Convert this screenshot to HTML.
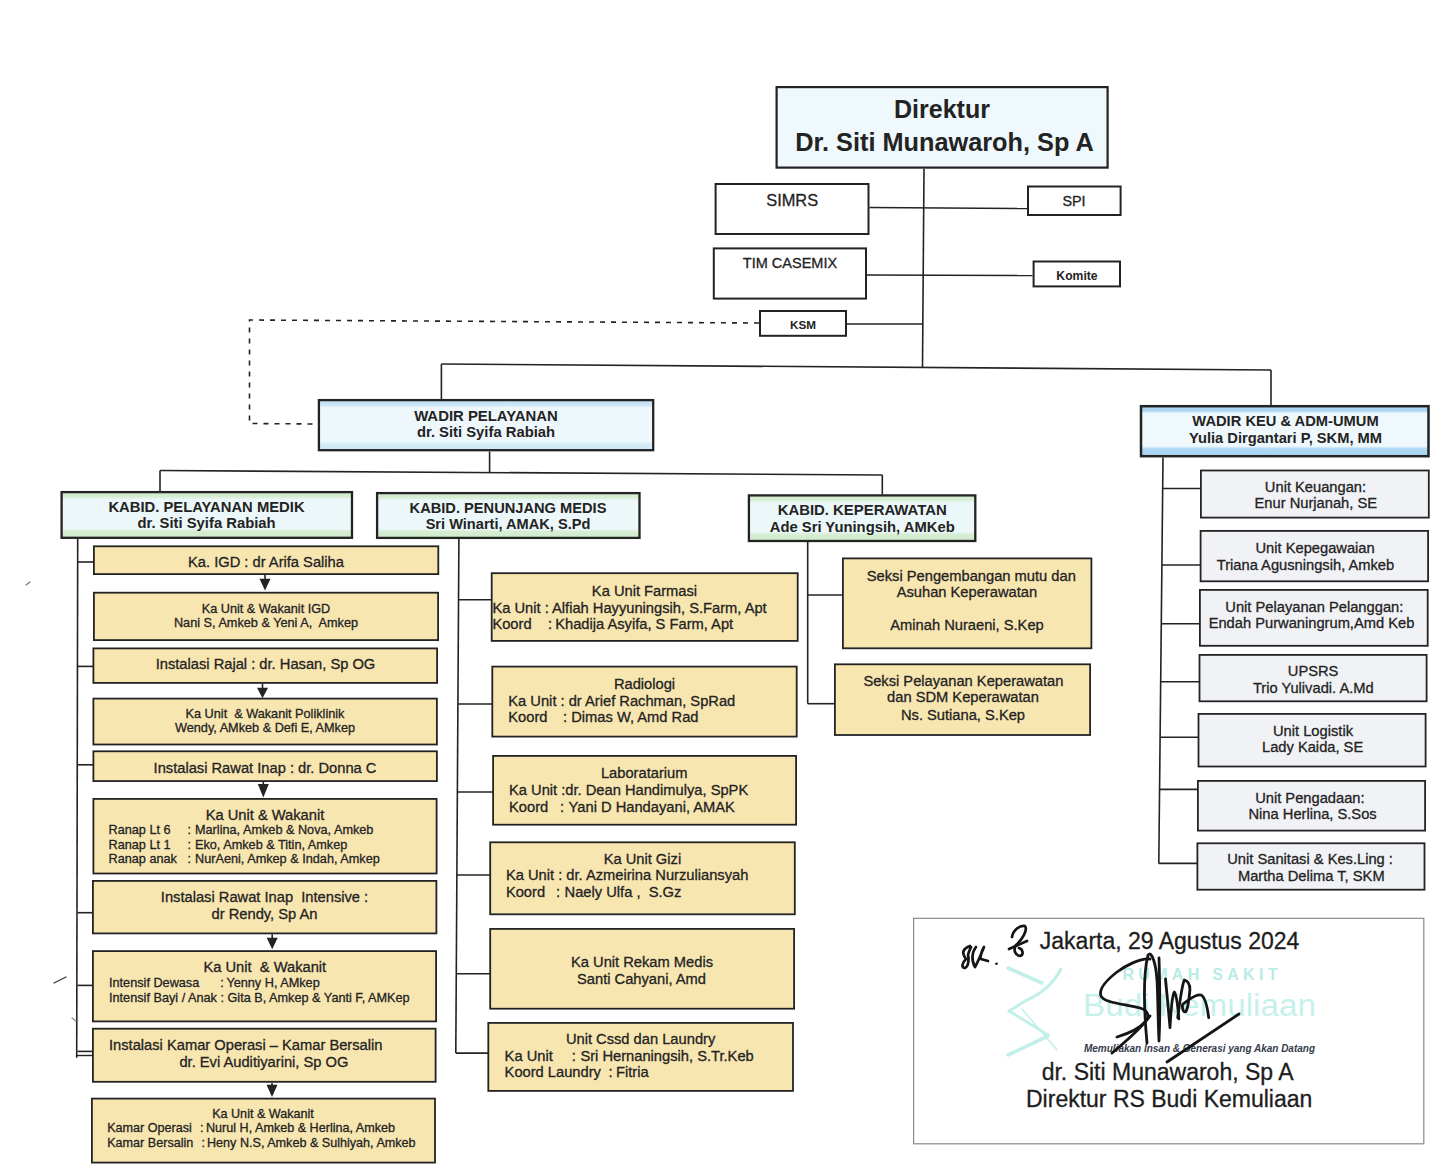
<!DOCTYPE html>
<html><head><meta charset="utf-8"><title>Struktur Organisasi</title>
<style>
html,body{margin:0;padding:0;background:#fff;}
svg{display:block;}
text{font-family:"Liberation Sans",sans-serif;}
.t{stroke:#232323;stroke-width:0.3px;}
</style></head>
<body>
<svg width="1442" height="1174" viewBox="0 0 1442 1174">
<defs>
<linearGradient id="gwp" x1="0" y1="0" x2="0" y2="1">
<stop offset="0" stop-color="#c2dff4"/><stop offset="0.1" stop-color="#cbe5f6"/><stop offset="0.15" stop-color="#eef8fc"/><stop offset="0.82" stop-color="#eef8fc"/><stop offset="0.88" stop-color="#d4ecf7"/><stop offset="1" stop-color="#cfe9f6"/>
</linearGradient>
<linearGradient id="gwk" x1="0" y1="0" x2="0" y2="1">
<stop offset="0" stop-color="#a8d3f2"/><stop offset="0.1" stop-color="#b0d8f3"/><stop offset="0.14" stop-color="#eff8fd"/><stop offset="0.8" stop-color="#eff8fd"/><stop offset="0.85" stop-color="#b0d8f3"/><stop offset="1" stop-color="#a8d3f2"/>
</linearGradient>
<linearGradient id="gkb" x1="0" y1="0" x2="0" y2="1">
<stop offset="0" stop-color="#d0eacb"/><stop offset="0.1" stop-color="#d6edd2"/><stop offset="0.16" stop-color="#ebf7f8"/><stop offset="0.8" stop-color="#ebf7f8"/><stop offset="0.86" stop-color="#d6edd2"/><stop offset="1" stop-color="#d0eacb"/>
</linearGradient>
</defs>
<rect x="0" y="0" width="1442" height="1174" fill="#ffffff"/>
<rect x="776.6" y="87.1" width="331.0" height="80.5" fill="#eff8fc" stroke="#232323" stroke-width="2.2" />
<text x="942.0" y="117.5" font-size="25" font-weight="bold" text-anchor="middle" fill="#232323" >Direktur</text>
<text x="944.5" y="151.0" font-size="25.3" font-weight="bold" text-anchor="middle" fill="#232323" >Dr. Siti Munawaroh, Sp A</text>
<line x1="924.0" y1="168.7" x2="922.5" y2="367.0" stroke="#232323" stroke-width="1.6" />
<rect x="715.6" y="184.0" width="152.9" height="50.0" fill="#fff" stroke="#232323" stroke-width="2.0" />
<text x="792.2" y="205.6" font-size="16.4" class="t" text-anchor="middle" fill="#232323" >SIMRS</text>
<rect x="1028.0" y="186.5" width="92.6" height="28.5" fill="#fff" stroke="#232323" stroke-width="2.0" />
<text x="1074.0" y="206.3" font-size="14.4" class="t" text-anchor="middle" fill="#232323" >SPI</text>
<line x1="869.5" y1="207.5" x2="1027.0" y2="208.5" stroke="#232323" stroke-width="1.6" />
<rect x="713.8" y="248.4" width="152.2" height="50.2" fill="#fff" stroke="#232323" stroke-width="2.0" />
<text x="790.0" y="268.0" font-size="14.5" class="t" text-anchor="middle" fill="#232323" >TIM CASEMIX</text>
<rect x="1033.6" y="261.5" width="86.4" height="24.9" fill="#fff" stroke="#232323" stroke-width="2.0" />
<text x="1077.0" y="279.5" font-size="12.2" font-weight="bold" text-anchor="middle" fill="#232323" >Komite</text>
<line x1="867.0" y1="275.0" x2="1032.6" y2="275.5" stroke="#232323" stroke-width="1.6" />
<rect x="760.0" y="311.0" width="86.0" height="24.8" fill="#fff" stroke="#232323" stroke-width="2.0" />
<text x="803.0" y="328.7" font-size="11.7" font-weight="bold" text-anchor="middle" fill="#232323" >KSM</text>
<line x1="847.0" y1="324.0" x2="923.0" y2="324.0" stroke="#232323" stroke-width="1.6" />
<polyline points="759,323 249.5,320 249.5,423.5 313,424" fill="none" stroke="#232323" stroke-width="1.6" stroke-dasharray="5,6"/>
<line x1="441.4" y1="364.0" x2="1271.0" y2="370.0" stroke="#232323" stroke-width="1.6" />
<line x1="441.4" y1="364.0" x2="441.4" y2="399.0" stroke="#232323" stroke-width="1.6" />
<line x1="1271.0" y1="370.0" x2="1271.0" y2="405.0" stroke="#232323" stroke-width="1.6" />
<rect x="318.9" y="400.1" width="334.3" height="50.1" fill="url(#gwp)" stroke="#232323" stroke-width="2.3" />
<text x="486.0" y="420.5" font-size="14.9" font-weight="bold" text-anchor="middle" fill="#232323" >WADIR PELAYANAN</text>
<text x="486.0" y="436.7" font-size="14.8" font-weight="bold" text-anchor="middle" fill="#232323" >dr. Siti Syifa Rabiah</text>
<rect x="1141.0" y="406.2" width="287.5" height="50.0" fill="url(#gwk)" stroke="#232323" stroke-width="2.5" />
<text x="1285.5" y="426.2" font-size="14.7" font-weight="bold" text-anchor="middle" fill="#232323" >WADIR KEU &amp; ADM-UMUM</text>
<text x="1285.5" y="443.0" font-size="14.7" font-weight="bold" text-anchor="middle" fill="#232323" >Yulia Dirgantari P, SKM, MM</text>
<line x1="489.6" y1="451.4" x2="489.6" y2="472.5" stroke="#232323" stroke-width="1.6" />
<line x1="160.0" y1="470.5" x2="882.3" y2="475.0" stroke="#232323" stroke-width="1.6" />
<line x1="160.0" y1="470.5" x2="160.0" y2="491.0" stroke="#232323" stroke-width="1.6" />
<line x1="882.3" y1="475.0" x2="882.3" y2="494.3" stroke="#232323" stroke-width="1.6" />
<rect x="61.6" y="492.1" width="290.4" height="45.7" fill="url(#gkb)" stroke="#232323" stroke-width="2.3" />
<text x="206.5" y="512.0" font-size="14.8" font-weight="bold" text-anchor="middle" fill="#232323" >KABID. PELAYANAN MEDIK</text>
<text x="206.5" y="528.0" font-size="14.8" font-weight="bold" text-anchor="middle" fill="#232323" >dr. Siti Syifa Rabiah</text>
<rect x="377.1" y="493.1" width="262.4" height="44.8" fill="url(#gkb)" stroke="#232323" stroke-width="2.3" />
<text x="508.0" y="512.6" font-size="14.65" font-weight="bold" text-anchor="middle" fill="#232323" >KABID. PENUNJANG MEDIS</text>
<text x="508.0" y="528.6" font-size="14.6" font-weight="bold" text-anchor="middle" fill="#232323" >Sri Winarti, AMAK, S.Pd</text>
<rect x="748.9" y="495.4" width="226.4" height="45.6" fill="url(#gkb)" stroke="#232323" stroke-width="2.3" />
<text x="862.2" y="515.3" font-size="14.9" font-weight="bold" text-anchor="middle" fill="#232323" >KABID. KEPERAWATAN</text>
<text x="862.2" y="531.7" font-size="14.8" font-weight="bold" text-anchor="middle" fill="#232323" >Ade Sri Yuningsih, AMKeb</text>
<line x1="77.7" y1="539.0" x2="76.7" y2="1057.7" stroke="#232323" stroke-width="1.6" />
<line x1="77.5" y1="562.0" x2="94.0" y2="562.0" stroke="#232323" stroke-width="1.6" />
<rect x="93.9" y="546.3" width="344.4" height="27.8" fill="#f8e6b1" stroke="#232323" stroke-width="1.8" />
<text x="266.0" y="567.3" font-size="14.7" class="t" text-anchor="middle" fill="#232323" >Ka. IGD : dr Arifa Saliha</text>
<line x1="265.0" y1="575.0" x2="265.0" y2="580.7" stroke="#232323" stroke-width="1.6" />
<polygon points="259.5,578.7 270.5,578.7 265.0,590.4" fill="#232323"/>
<rect x="93.9" y="592.7" width="344.2" height="47.4" fill="#f8e6b1" stroke="#232323" stroke-width="1.8" />
<text x="266.0" y="612.6" font-size="12.7" class="t" text-anchor="middle" fill="#232323" >Ka Unit &amp; Wakanit IGD</text>
<text x="266.0" y="627.3" font-size="12.7" class="t" text-anchor="middle" fill="#232323" xml:space="preserve">Nani S, Amkeb &amp; Yeni A,  Amkep</text>
<line x1="77.5" y1="666.4" x2="93.5" y2="666.4" stroke="#232323" stroke-width="1.6" />
<rect x="93.4" y="648.4" width="343.7" height="34.5" fill="#f8e6b1" stroke="#232323" stroke-width="1.8" />
<text x="265.5" y="669.0" font-size="14.7" class="t" text-anchor="middle" fill="#232323" >Instalasi Rajal : dr. Hasan, Sp OG</text>
<line x1="262.5" y1="683.8" x2="262.5" y2="689.7" stroke="#232323" stroke-width="1.6" />
<polygon points="257.0,687.7 268.0,687.7 262.5,698.2" fill="#232323"/>
<rect x="93.4" y="698.6" width="343.5" height="45.9" fill="#f8e6b1" stroke="#232323" stroke-width="1.8" />
<text x="265.0" y="717.7" font-size="12.7" class="t" text-anchor="middle" fill="#232323" xml:space="preserve">Ka Unit  &amp; Wakanit Poliklinik</text>
<text x="265.0" y="732.0" font-size="12.7" class="t" text-anchor="middle" fill="#232323" >Wendy, AMkeb &amp; Defi E, AMkep</text>
<line x1="77.5" y1="764.8" x2="93.5" y2="764.8" stroke="#232323" stroke-width="1.6" />
<rect x="93.4" y="751.3" width="343.5" height="29.8" fill="#f8e6b1" stroke="#232323" stroke-width="1.8" />
<text x="265.0" y="772.6" font-size="14.7" class="t" text-anchor="middle" fill="#232323" >Instalasi Rawat Inap : dr. Donna C</text>
<line x1="263.3" y1="782.0" x2="263.3" y2="786.0" stroke="#232323" stroke-width="1.6" />
<polygon points="257.8,784.0 268.8,784.0 263.3,797.6" fill="#232323"/>
<rect x="93.4" y="798.9" width="343.2" height="74.6" fill="#f8e6b1" stroke="#232323" stroke-width="1.8" />
<text x="265.0" y="819.5" font-size="14.7" class="t" text-anchor="middle" fill="#232323" >Ka Unit &amp; Wakanit</text>
<text x="108.5" y="834.2" font-size="12.7" class="t" text-anchor="start" fill="#232323" >Ranap Lt 6</text>
<text x="187.6" y="834.2" font-size="12.7" class="t" text-anchor="start" fill="#232323" >:</text>
<text x="195.0" y="834.2" font-size="12.7" class="t" text-anchor="start" fill="#232323" >Marlina, Amkeb &amp; Nova, Amkeb</text>
<text x="108.5" y="848.6" font-size="12.7" class="t" text-anchor="start" fill="#232323" >Ranap Lt 1</text>
<text x="187.6" y="848.6" font-size="12.7" class="t" text-anchor="start" fill="#232323" >:</text>
<text x="195.0" y="848.6" font-size="12.7" class="t" text-anchor="start" fill="#232323" >Eko, Amkeb &amp; Titin, Amkep</text>
<text x="108.5" y="862.7" font-size="12.7" class="t" text-anchor="start" fill="#232323" >Ranap anak</text>
<text x="187.6" y="862.7" font-size="12.7" class="t" text-anchor="start" fill="#232323" >:</text>
<text x="195.0" y="862.7" font-size="12.7" class="t" text-anchor="start" fill="#232323" >NurAeni, Amkep &amp; Indah, Amkep</text>
<line x1="77.5" y1="912.7" x2="93.0" y2="912.7" stroke="#232323" stroke-width="1.6" />
<rect x="92.9" y="880.9" width="343.5" height="52.5" fill="#f8e6b1" stroke="#232323" stroke-width="1.8" />
<text x="264.5" y="901.6" font-size="14.7" class="t" text-anchor="middle" fill="#232323" xml:space="preserve">Instalasi Rawat Inap  Intensive :</text>
<text x="264.5" y="918.8" font-size="14.7" class="t" text-anchor="middle" fill="#232323" >dr Rendy, Sp An</text>
<line x1="272.2" y1="934.3" x2="272.2" y2="939.7" stroke="#232323" stroke-width="1.6" />
<polygon points="266.7,937.7 277.7,937.7 272.2,949.3" fill="#232323"/>
<line x1="77.5" y1="985.4" x2="93.0" y2="985.4" stroke="#232323" stroke-width="1.6" />
<rect x="92.9" y="951.1" width="343.2" height="70.3" fill="#f8e6b1" stroke="#232323" stroke-width="1.8" />
<text x="264.8" y="971.8" font-size="14.7" class="t" text-anchor="middle" fill="#232323" xml:space="preserve">Ka Unit  &amp; Wakanit</text>
<text x="109.0" y="986.8" font-size="12.7" class="t" text-anchor="start" fill="#232323" >Intensif Dewasa</text>
<text x="220.3" y="986.8" font-size="12.7" class="t" text-anchor="start" fill="#232323" >:</text>
<text x="226.4" y="986.8" font-size="12.7" class="t" text-anchor="start" fill="#232323" >Yenny H, AMkep</text>
<text x="109.0" y="1001.5" font-size="12.7" class="t" text-anchor="start" fill="#232323" >Intensif Bayi / Anak : Gita B, Amkep &amp; Yanti F, AMKep</text>
<line x1="77.5" y1="1051.4" x2="93.0" y2="1051.4" stroke="#232323" stroke-width="1.6" />
<rect x="92.9" y="1028.7" width="342.7" height="53.1" fill="#f8e6b1" stroke="#232323" stroke-width="1.8" />
<line x1="77.0" y1="1055.5" x2="92.0" y2="1055.5" stroke="#232323" stroke-width="1.4" />
<text x="109.0" y="1050.0" font-size="14.7" class="t" text-anchor="start" fill="#232323" >Instalasi Kamar Operasi – Kamar Bersalin</text>
<text x="263.9" y="1066.7" font-size="14.7" class="t" text-anchor="middle" fill="#232323" >dr. Evi Auditiyarini, Sp OG</text>
<line x1="272.0" y1="1082.7" x2="272.0" y2="1086.7" stroke="#232323" stroke-width="1.6" />
<polygon points="266.5,1084.7 277.5,1084.7 272.0,1097.0" fill="#232323"/>
<rect x="91.9" y="1098.6" width="343.1" height="64.0" fill="#f8e6b1" stroke="#232323" stroke-width="1.8" />
<text x="263.0" y="1117.7" font-size="12.6" class="t" text-anchor="middle" fill="#232323" >Ka Unit &amp; Wakanit</text>
<text x="107.2" y="1132.4" font-size="12.6" class="t" text-anchor="start" fill="#232323" >Kamar Operasi</text>
<text x="200.0" y="1132.4" font-size="12.6" class="t" text-anchor="start" fill="#232323" >:</text>
<text x="206.0" y="1132.4" font-size="12.6" class="t" text-anchor="start" fill="#232323" >Nurul H, Amkeb &amp; Herlina, Amkeb</text>
<text x="107.2" y="1146.8" font-size="12.6" class="t" text-anchor="start" fill="#232323" >Kamar Bersalin</text>
<text x="201.5" y="1146.8" font-size="12.6" class="t" text-anchor="start" fill="#232323" >:</text>
<text x="207.0" y="1146.8" font-size="12.6" class="t" text-anchor="start" fill="#232323" >Heny N.S, Amkeb &amp; Sulhiyah, Amkeb</text>
<line x1="458.9" y1="539.0" x2="455.8" y2="1053.1" stroke="#232323" stroke-width="1.6" />
<line x1="458.6" y1="599.7" x2="491.8" y2="599.7" stroke="#232323" stroke-width="1.6" />
<rect x="491.7" y="573.2" width="306.0" height="67.7" fill="#f8e6b1" stroke="#232323" stroke-width="1.8" />
<text x="644.5" y="595.6" font-size="14.7" class="t" text-anchor="middle" fill="#232323" >Ka Unit Farmasi</text>
<text x="492.4" y="612.5" font-size="14.7" class="t" text-anchor="start" fill="#232323" >Ka Unit : Alfiah Hayyuningsih, S.Farm, Apt</text>
<text x="492.4" y="629.0" font-size="14.7" class="t" text-anchor="start" fill="#232323" >Koord</text>
<text x="548.0" y="629.0" font-size="14.7" class="t" text-anchor="start" fill="#232323" >:</text>
<text x="555.2" y="629.0" font-size="14.7" class="t" text-anchor="start" fill="#232323" >Khadija Asyifa, S Farm, Apt</text>
<line x1="458.1" y1="704.0" x2="492.4" y2="704.0" stroke="#232323" stroke-width="1.6" />
<rect x="492.3" y="666.6" width="304.4" height="70.0" fill="#f8e6b1" stroke="#232323" stroke-width="1.8" />
<text x="644.5" y="689.0" font-size="14.7" class="t" text-anchor="middle" fill="#232323" >Radiologi</text>
<text x="508.3" y="705.6" font-size="14.7" class="t" text-anchor="start" fill="#232323" >Ka Unit : dr Arief Rachman, SpRad</text>
<text x="508.3" y="722.2" font-size="14.7" class="t" text-anchor="start" fill="#232323" >Koord</text>
<text x="563.0" y="722.2" font-size="14.7" class="t" text-anchor="start" fill="#232323" >:</text>
<text x="571.2" y="722.2" font-size="14.7" class="t" text-anchor="start" fill="#232323" >Dimas W, Amd Rad</text>
<line x1="457.4" y1="792.0" x2="493.2" y2="792.0" stroke="#232323" stroke-width="1.6" />
<rect x="493.1" y="755.9" width="303.0" height="68.8" fill="#f8e6b1" stroke="#232323" stroke-width="1.8" />
<text x="644.2" y="778.2" font-size="14.7" class="t" text-anchor="middle" fill="#232323" >Laboratarium</text>
<text x="509.0" y="795.3" font-size="14.7" class="t" text-anchor="start" fill="#232323" >Ka Unit :dr. Dean Handimulya, SpPK</text>
<text x="509.0" y="811.7" font-size="14.7" class="t" text-anchor="start" fill="#232323" >Koord</text>
<text x="560.0" y="811.7" font-size="14.7" class="t" text-anchor="start" fill="#232323" >:</text>
<text x="568.6" y="811.7" font-size="14.7" class="t" text-anchor="start" fill="#232323" >Yani D Handayani, AMAK</text>
<line x1="456.9" y1="875.0" x2="490.3" y2="875.0" stroke="#232323" stroke-width="1.6" />
<rect x="490.2" y="842.3" width="304.6" height="72.0" fill="#f8e6b1" stroke="#232323" stroke-width="1.8" />
<text x="642.4" y="863.8" font-size="14.7" class="t" text-anchor="middle" fill="#232323" >Ka Unit Gizi</text>
<text x="505.9" y="880.2" font-size="14.7" class="t" text-anchor="start" fill="#232323" >Ka Unit : dr. Azmeirina Nurzuliansyah</text>
<text x="505.9" y="897.3" font-size="14.7" class="t" text-anchor="start" fill="#232323" >Koord</text>
<text x="556.0" y="897.3" font-size="14.7" class="t" text-anchor="start" fill="#232323" >:</text>
<text x="564.6" y="897.3" font-size="14.7" class="t" text-anchor="start" fill="#232323" xml:space="preserve">Naely Ulfa ,  S.Gz</text>
<line x1="456.3" y1="973.8" x2="490.3" y2="973.8" stroke="#232323" stroke-width="1.6" />
<rect x="490.2" y="928.9" width="303.9" height="79.8" fill="#f8e6b1" stroke="#232323" stroke-width="1.8" />
<text x="642.0" y="966.7" font-size="14.7" class="t" text-anchor="middle" fill="#232323" >Ka Unit Rekam Medis</text>
<text x="641.5" y="983.8" font-size="14.7" class="t" text-anchor="middle" fill="#232323" >Santi Cahyani, Amd</text>
<line x1="455.8" y1="1053.1" x2="488.4" y2="1053.1" stroke="#232323" stroke-width="1.6" />
<rect x="488.3" y="1022.9" width="304.7" height="68.0" fill="#f8e6b1" stroke="#232323" stroke-width="1.8" />
<text x="640.6" y="1043.9" font-size="14.7" class="t" text-anchor="middle" fill="#232323" >Unit Cssd dan Laundry</text>
<text x="504.6" y="1060.7" font-size="14.7" class="t" text-anchor="start" fill="#232323" >Ka Unit</text>
<text x="571.8" y="1060.7" font-size="14.7" class="t" text-anchor="start" fill="#232323" >:</text>
<text x="580.4" y="1060.7" font-size="14.7" class="t" text-anchor="start" fill="#232323" >Sri Hernaningsih, S.Tr.Keb</text>
<text x="504.6" y="1077.3" font-size="14.7" class="t" text-anchor="start" fill="#232323" >Koord Laundry</text>
<text x="608.6" y="1077.3" font-size="14.7" class="t" text-anchor="start" fill="#232323" >:</text>
<text x="616.0" y="1077.3" font-size="14.7" class="t" text-anchor="start" fill="#232323" >Fitria</text>
<line x1="807.7" y1="542.0" x2="807.7" y2="703.7" stroke="#232323" stroke-width="1.6" />
<line x1="807.7" y1="595.0" x2="843.0" y2="595.0" stroke="#232323" stroke-width="1.6" />
<rect x="842.9" y="558.4" width="248.5" height="89.9" fill="#f8e6b1" stroke="#232323" stroke-width="1.8" />
<text x="971.3" y="580.7" font-size="14.7" class="t" text-anchor="middle" fill="#232323" >Seksi Pengembangan mutu dan</text>
<text x="966.9" y="596.5" font-size="14.7" class="t" text-anchor="middle" fill="#232323" >Asuhan Keperawatan</text>
<text x="967.0" y="630.0" font-size="14.7" class="t" text-anchor="middle" fill="#232323" >Aminah Nuraeni, S.Kep</text>
<line x1="807.7" y1="703.7" x2="835.0" y2="703.7" stroke="#232323" stroke-width="1.6" />
<rect x="834.9" y="664.3" width="255.2" height="70.7" fill="#f8e6b1" stroke="#232323" stroke-width="1.8" />
<text x="963.4" y="686.1" font-size="14.7" class="t" text-anchor="middle" fill="#232323" >Seksi Pelayanan Keperawatan</text>
<text x="963.0" y="702.4" font-size="14.7" class="t" text-anchor="middle" fill="#232323" >dan SDM Keperawatan</text>
<text x="963.0" y="719.5" font-size="14.7" class="t" text-anchor="middle" fill="#232323" >Ns. Sutiana, S.Kep</text>
<line x1="1163.0" y1="457.5" x2="1158.8" y2="863.4" stroke="#232323" stroke-width="1.6" />
<line x1="1162.6" y1="488.5" x2="1201.0" y2="488.5" stroke="#232323" stroke-width="1.6" />
<rect x="1200.9" y="470.5" width="227.9" height="47.1" fill="#f1f2f5" stroke="#232323" stroke-width="1.8" />
<text x="1315.5" y="491.7" font-size="14.7" class="t" text-anchor="middle" fill="#232323" >Unit Keuangan:</text>
<text x="1315.8" y="508.0" font-size="14.7" class="t" text-anchor="middle" fill="#232323" >Enur Nurjanah, SE</text>
<line x1="1162.0" y1="565.0" x2="1200.7" y2="565.0" stroke="#232323" stroke-width="1.6" />
<rect x="1200.6" y="530.9" width="227.5" height="50.4" fill="#f1f2f5" stroke="#232323" stroke-width="1.8" />
<text x="1315.1" y="552.9" font-size="14.7" class="t" text-anchor="middle" fill="#232323" >Unit Kepegawaian</text>
<text x="1305.5" y="569.6" font-size="14.7" class="t" text-anchor="middle" fill="#232323" >Triana Agusningsih, Amkeb</text>
<line x1="1161.4" y1="623.7" x2="1200.0" y2="623.7" stroke="#232323" stroke-width="1.6" />
<rect x="1199.9" y="589.9" width="227.8" height="55.9" fill="#f1f2f5" stroke="#232323" stroke-width="1.8" />
<text x="1314.3" y="612.1" font-size="14.7" class="t" text-anchor="middle" fill="#232323" >Unit Pelayanan Pelanggan:</text>
<text x="1311.5" y="628.3" font-size="14.7" class="t" text-anchor="middle" fill="#232323" >Endah Purwaningrum,Amd Keb</text>
<line x1="1160.8" y1="681.7" x2="1199.6" y2="681.7" stroke="#232323" stroke-width="1.6" />
<rect x="1199.5" y="654.9" width="227.1" height="46.4" fill="#f1f2f5" stroke="#232323" stroke-width="1.8" />
<text x="1313.1" y="676.0" font-size="14.7" class="t" text-anchor="middle" fill="#232323" >UPSRS</text>
<text x="1313.3" y="692.8" font-size="14.7" class="t" text-anchor="middle" fill="#232323" >Trio Yulivadi. A.Md</text>
<line x1="1160.2" y1="737.3" x2="1198.6" y2="737.3" stroke="#232323" stroke-width="1.6" />
<rect x="1198.5" y="713.9" width="227.1" height="52.6" fill="#f1f2f5" stroke="#232323" stroke-width="1.8" />
<text x="1313.0" y="736.0" font-size="14.7" class="t" text-anchor="middle" fill="#232323" >Unit Logistik</text>
<text x="1312.6" y="752.4" font-size="14.7" class="t" text-anchor="middle" fill="#232323" >Lady Kaida, SE</text>
<line x1="1159.6" y1="789.4" x2="1198.0" y2="789.4" stroke="#232323" stroke-width="1.6" />
<rect x="1197.9" y="780.9" width="227.2" height="49.7" fill="#f1f2f5" stroke="#232323" stroke-width="1.8" />
<text x="1309.9" y="802.6" font-size="14.7" class="t" text-anchor="middle" fill="#232323" >Unit Pengadaan:</text>
<text x="1312.6" y="819.4" font-size="14.7" class="t" text-anchor="middle" fill="#232323" >Nina Herlina, S.Sos</text>
<line x1="1158.8" y1="863.4" x2="1197.5" y2="863.4" stroke="#232323" stroke-width="1.6" />
<rect x="1197.4" y="843.3" width="227.1" height="46.4" fill="#f1f2f5" stroke="#232323" stroke-width="1.8" />
<text x="1310.1" y="864.4" font-size="14.7" class="t" text-anchor="middle" fill="#232323" >Unit Sanitasi &amp; Kes.Ling :</text>
<text x="1311.3" y="881.2" font-size="14.7" class="t" text-anchor="middle" fill="#232323" >Martha Delima T, SKM</text>
<g stroke="#333" stroke-width="1.2" stroke-linecap="round" fill="none"><path d="M54,983 L66,977"/><path d="M26,585 L30,582" stroke="#777"/><path d="M72,1018 L76,1021" stroke="#888"/></g>
<rect x="913.6" y="918.3" width="510.2" height="225.5" fill="#fff" stroke="#8a8a8a" stroke-width="1.2" />
<g fill="none" stroke="#c2f0e9" stroke-linecap="round" stroke-linejoin="round"><path d="M1008,968 L1042,983" stroke-width="3.6"/><path d="M1061,969 Q1050,990 1027,1000 L1009,1011" stroke-width="3"/><path d="M1009,1011 L1048,1035" stroke-width="3"/><path d="M1048,1036 L1008,1055" stroke-width="3.6"/><path d="M1022,1009 L1057,1050" stroke-width="1.5"/></g>
<text x="1200.0" y="980.0" font-size="16" font-weight="bold" text-anchor="middle" fill="#b8ece5" textLength="155" lengthAdjust="spacing">RUMAH SAKIT</text>
<text x="1199.5" y="1016.2" font-size="31" text-anchor="middle" fill="#c6f1eb" textLength="233" lengthAdjust="spacingAndGlyphs">Budi Kemuliaan</text>
<text x="1199.5" y="1052.0" font-size="11.5" font-weight="bold" text-anchor="middle" fill="#353b4c" font-style="italic" textLength="231" lengthAdjust="spacingAndGlyphs">Memuliakan Insan &amp; Generasi yang Akan Datang</text>
<text x="1039.8" y="948.9" font-size="23" class="t" text-anchor="start" fill="#1c1c1c" >Jakarta, 29 Agustus 2024</text>
<text x="1041.7" y="1080.0" font-size="23" class="t" text-anchor="start" fill="#1c1c1c" >dr. Siti Munawaroh, Sp A</text>
<text x="1026.0" y="1106.8" font-size="23" class="t" text-anchor="start" fill="#1c1c1c" >Direktur RS Budi Kemuliaan</text>
<g fill="none" stroke="#151515" stroke-width="2.8" stroke-linecap="round" stroke-linejoin="round"><path d="M1150,959 C1140,958 1125,966 1117,972 C1108,979 1098,988 1101,996 C1104,1003 1125,1004 1140,1008 C1150,1011 1149,1018 1145,1022 C1140,1028 1130,1033 1117,1037"/><path d="M1112,1053 C1125,1042 1140,1030 1150,1016"/><path d="M1147,1043 C1144,1010 1143,975 1148,955 C1152,950 1156,965 1157,980 C1158,1000 1158,1020 1159,1041 C1160,1020 1160,990 1159,958"/><path d="M1165.5,979 C1167,995 1169,1015 1170,1027.7 C1171,1010 1172,995 1174.3,992 C1177,995 1178,1008 1178.8,1018.8"/><path d="M1177.7,1017.7 C1180,1000 1182,985 1184.3,980 C1188,981 1190,984 1189.9,990 C1189,1000 1188,1008 1186,1011.5 C1183,1013 1182,1008 1182.6,1004.4 C1188,1000 1196,994 1201,995 C1205,997 1207,1004 1208.7,1017.7"/><path d="M1239,1014 L1167,1062"/></g>
<g fill="none" stroke="#151515" stroke-width="2.7" stroke-linecap="round" stroke-linejoin="round"><path d="M1012,937 C1013,930 1020,925 1025,926 C1028,930 1022,940 1016,945 C1013,950 1015,955 1020,956 C1024,955 1023,949 1019,948"/><path d="M1009,949 L1027,941"/><path d="M970,946 C965,948 960,951 966,959 C962,963 961,968 965,968 C969,966 969,958 968,955 C969,950 971,948 971,947"/><path d="M976,947 C972,952 971,960 975,967 C978,962 982,952 984,947 C981,952 980,958 981,959 L988,961"/></g>
<circle cx="996.5" cy="963.7" r="1.3" fill="#111"/>
</svg>
</body></html>
